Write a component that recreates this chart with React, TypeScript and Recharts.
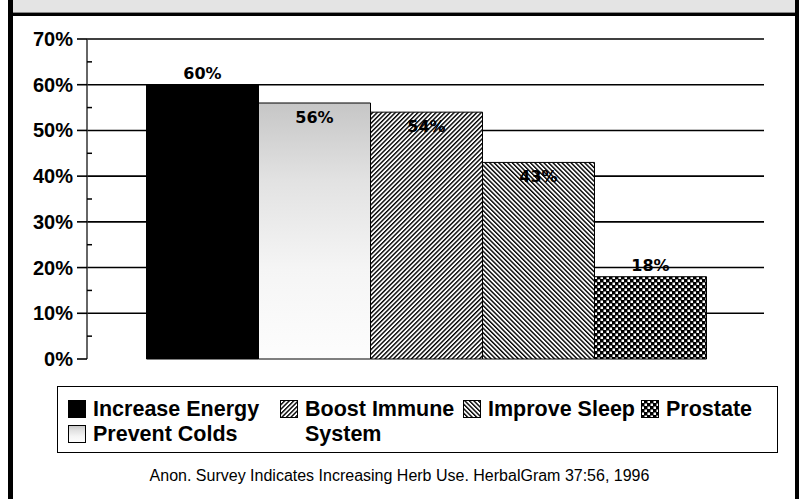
import React from "react";
import { Bar, BarChart, CartesianGrid, LabelList, XAxis, YAxis } from "recharts";

// one group, five reasons
const categories = ["Reasons for use"];
const seriesNames = ["Increase Energy", "Prevent Colds", "Boost Immune System", "Improve Sleep", "Prostate"];
const seriesValues = [60, 56, 54, 43, 18];
const yTicks = [0, 5, 10, 15, 20, 25, 30, 35, 40, 45, 50, 55, 60, 65, 70];
const majorTicks = [0, 10, 20, 30, 40, 50, 60, 70];
const sourceNote = "Anon. Survey Indicates Increasing Herb Use. HerbalGram 37:56, 1996";

const seriesKeys = seriesNames.map((_, i) => `s${i}`);
const data = categories.map((name) => {
  const row: Record<string, string | number> = { name };
  seriesKeys.forEach((k, i) => (row[k] = seriesValues[i]));
  return row;
});

const fills = ["#000000", "url(#stipple)", "url(#hatchFwd)", "url(#hatchBack)", "url(#checker)"];
const labelInside = [false, true, true, true, false];
// legend cells: column, row (excel style column-major legend)
const legendCells = [
  [1, 1],
  [1, 2],
  [2, 1],
  [3, 1],
  [4, 1],
];

const TICK_SIZE = 10;
const TICK_MARGIN = 4;

const YTick = (p: any) => {
  const v = p.payload.value;
  const axisX = p.x + TICK_MARGIN + TICK_SIZE;
  if (!majorTicks.includes(v)) {
    return <line x1={axisX} x2={axisX + 5} y1={p.y} y2={p.y} stroke="#000" strokeWidth={1.5} />;
  }
  return (
    <g>
      <line x1={axisX - TICK_SIZE} x2={axisX} y1={p.y} y2={p.y} stroke="#000" strokeWidth={1.6} />
      <text x={p.x} y={p.y} dy={7} textAnchor="end" fontFamily="Liberation Sans" fontWeight="bold" fontSize={20} fill="#000">
        {v}%
      </text>
    </g>
  );
};

const barLabel = (inside: boolean) => (p: any) => {
  const cx = p.x + p.width / 2;
  const y = inside ? p.y + 20 : p.y - 6;
  return (
    <text x={cx} y={y} textAnchor="middle" fontFamily="DejaVu Sans" fontWeight="bold" fontSize={16} fill="#000">
      {p.value}%
    </text>
  );
};

function Patterns() {
  return (
    <defs>
      <linearGradient id="stipple" x1="0" y1="0" x2="0" y2="1">
        <stop offset="0" stopColor="#c6c6c6" />
        <stop offset="0.3" stopColor="#e2e2e2" />
        <stop offset="0.65" stopColor="#f5f5f5" />
        <stop offset="1" stopColor="#fdfdfd" />
      </linearGradient>
      <pattern id="hatchFwd" width="3.2" height="3.2" patternUnits="userSpaceOnUse" patternTransform="rotate(45)">
        <rect width="3.2" height="3.2" fill="#fff" />
        <rect width="1.4" height="3.2" fill="#000" />
      </pattern>
      <pattern id="hatchBack" width="3.2" height="3.2" patternUnits="userSpaceOnUse" patternTransform="rotate(-45)">
        <rect width="3.2" height="3.2" fill="#fff" />
        <rect width="1.4" height="3.2" fill="#000" />
      </pattern>
      <pattern id="checker" width="6" height="6" patternUnits="userSpaceOnUse">
        <rect width="6" height="6" fill="#000" />
        <rect x="0.5" y="0.5" width="2.5" height="2.5" fill="#fff" />
        <rect x="3.5" y="3.5" width="2.5" height="2.5" fill="#fff" />
      </pattern>
    </defs>
  );
}

export default function App() {
  return (
    <div style={{ position: "absolute", left: 0, top: 0, width: 799, height: 499, background: "#fff", fontFamily: "Liberation Sans", overflow: "hidden" }}>
      <div style={{ position: "absolute", left: 8, top: 0, width: 5, height: 499, background: "#000" }} />
      <div style={{ position: "absolute", left: 795, top: 0, width: 4, height: 499, background: "#000" }} />
      <div style={{ position: "absolute", left: 13, top: 0, width: 782, height: 12, background: "#e4e4e4", borderBottom: "1px solid #888" }} />
      <div style={{ position: "absolute", left: 13, top: 13, width: 782, height: 3, background: "#000" }} />

      <div style={{ position: "absolute", left: 0, top: 0 }}>
        <BarChart width={799} height={499} data={data} margin={{ top: 39, right: 35, bottom: 140, left: 0 }} barGap={0} barCategoryGap={59.5}>
          <Patterns />
          <CartesianGrid vertical={false} horizontalValues={majorTicks.filter((v) => v > 0)} stroke="#000" strokeWidth={1.6} />
          <XAxis dataKey="name" height={0} tick={false} tickSize={9} tickLine={{ stroke: "#000", strokeWidth: 1.5 }} axisLine={{ stroke: "#000", strokeWidth: 1.6 }} />
          <YAxis
            domain={[0, 70]}
            ticks={yTicks}
            interval={0}
            width={87}
            tickSize={TICK_SIZE}
            tickMargin={TICK_MARGIN}
            tickLine={false}
            tick={<YTick />}
            axisLine={{ stroke: "#333", strokeWidth: 1.5 }}
          />
          <YAxis yAxisId="frame" orientation="right" width={0} domain={[0, 70]} tick={false} tickLine={false} axisLine={{ stroke: "#777", strokeWidth: 1.5 }} />
          {seriesKeys.map((k, i) => (
            <Bar key={k} dataKey={k} name={seriesNames[i]} fill={fills[i]} stroke="#000" strokeWidth={1} isAnimationActive={false}>
              <LabelList dataKey={k} content={barLabel(labelInside[i])} />
            </Bar>
          ))}
        </BarChart>
      </div>

      <div
        style={{
          position: "absolute",
          left: 57,
          top: 386,
          width: 721,
          height: 67,
          border: "1px solid #000",
          boxSizing: "border-box",
        }}
      >
        <div
          style={{
            position: "absolute",
            left: 10,
            top: 10,
            display: "grid",
            gridTemplateColumns: "212px 183px 178px auto",
            gridTemplateRows: "25px 25px",
          }}
        >
          {seriesNames.map((n, i) => (
            <div
              key={n}
              style={{ gridColumn: legendCells[i][0], gridRow: legendCells[i][1], display: "flex", alignItems: "flex-start" }}
            >
              <svg width={18} height={18} style={{ flex: "none", marginTop: 3 }}>
                <rect x={0.5} y={0.5} width={17} height={17} fill={fills[i]} stroke="#000" strokeWidth={1} />
              </svg>
              <span
                style={{
                  marginLeft: 7,
                  fontWeight: "bold",
                  fontSize: 21.5,
                  lineHeight: "25px",
                  width: i === 2 ? 155 : undefined,
                  whiteSpace: i === 2 ? "normal" : "nowrap",
                  color: "#000",
                }}
              >
                {n}
              </span>
            </div>
          ))}
        </div>
      </div>

      <div style={{ position: "absolute", left: 0, width: 799, top: 467, textAlign: "center", fontSize: 16, color: "#000" }}>{sourceNote}</div>
    </div>
  );
}
